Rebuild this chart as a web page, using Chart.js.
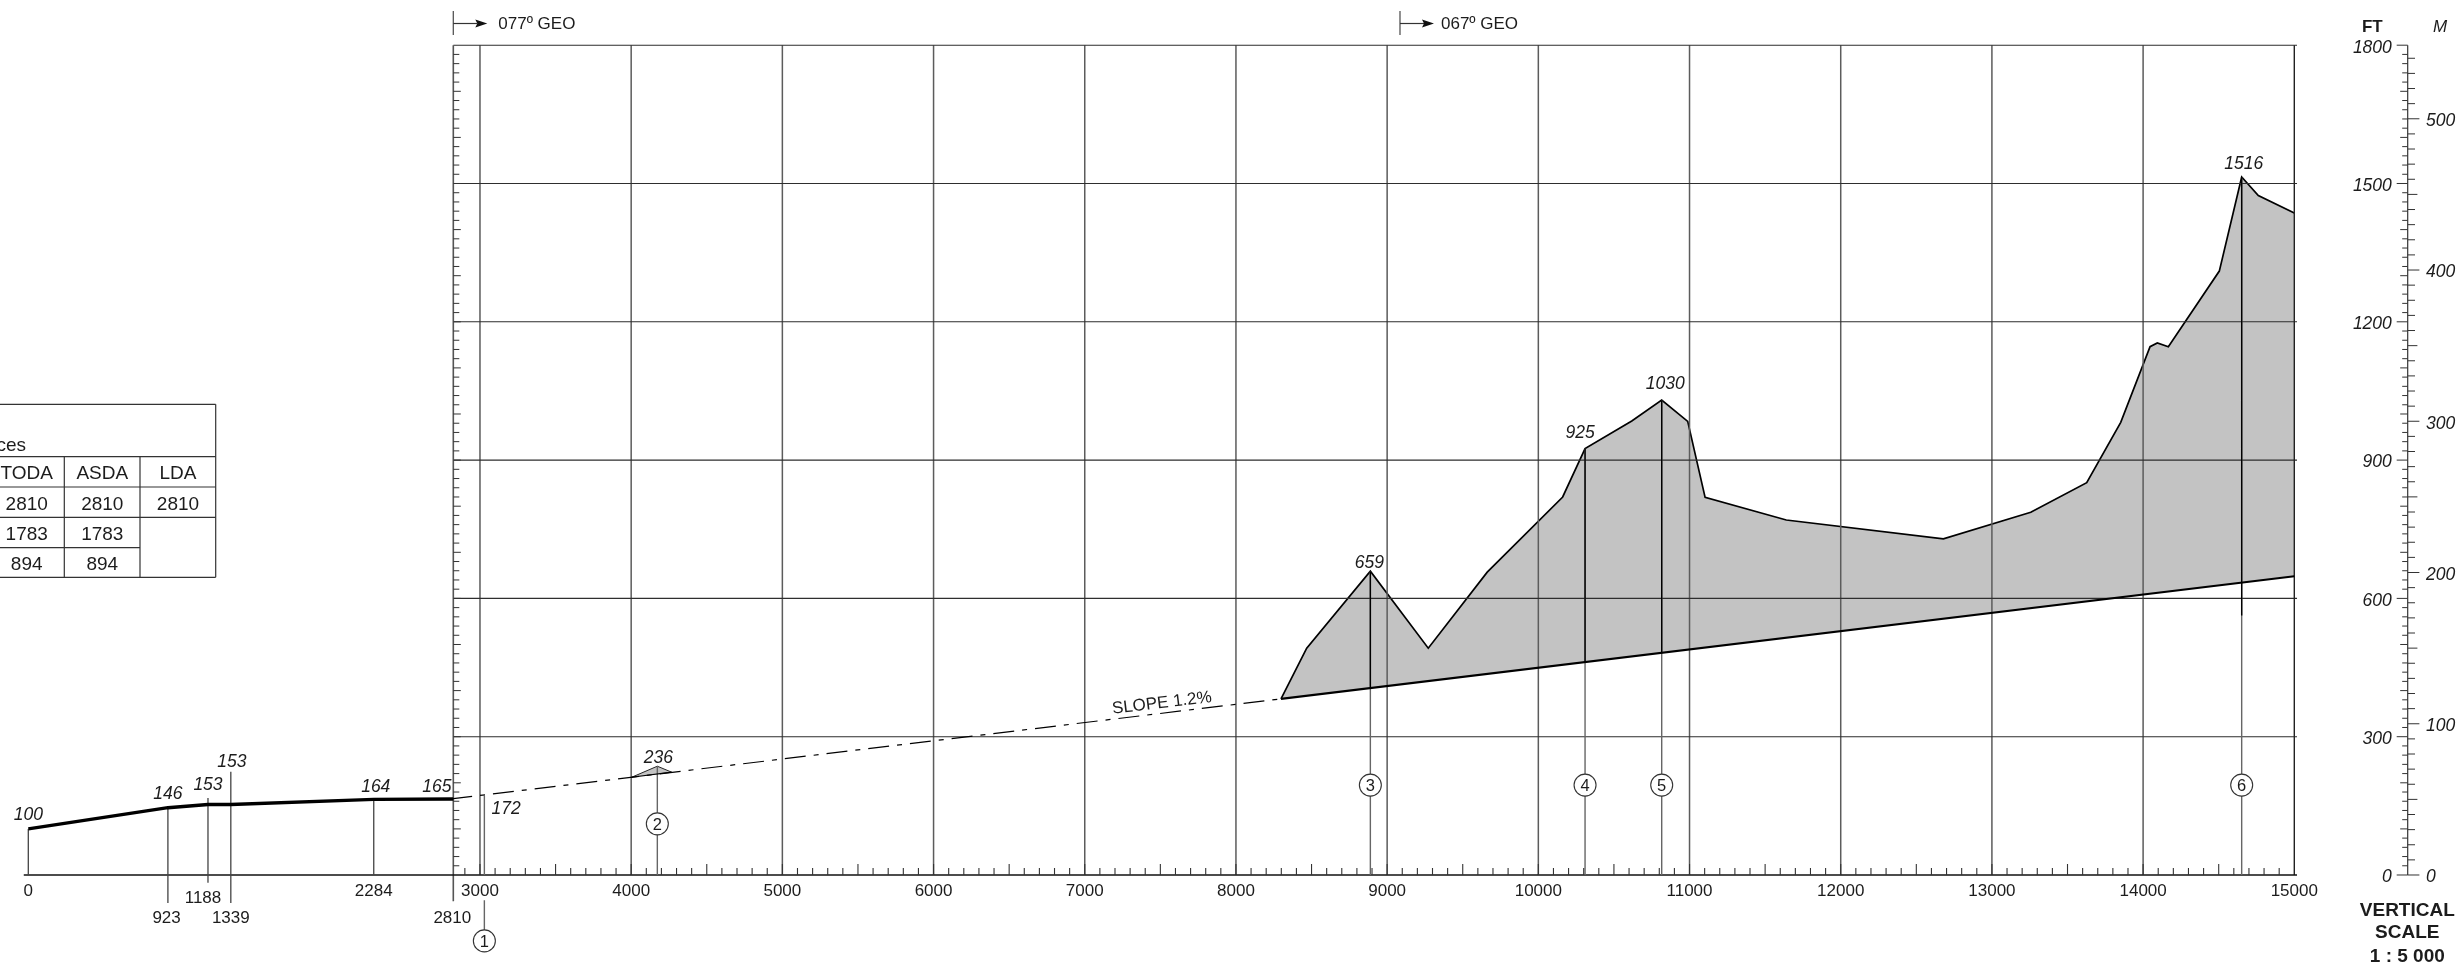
<!DOCTYPE html>
<html><head><meta charset="utf-8">
<style>html,body{margin:0;padding:0;background:#fff}canvas{display:block}</style>
<script src="https://cdn.jsdelivr.net/npm/chart.js@4"></script>
</head><body><canvas id="c" width="2463" height="964"></canvas>
<script>
// ---------- data ----------
const runwayDist=[0,923,1188,1339,2284,2810];
const runwayElev=[100,146,153,153,164,165];
const runwayDropTop=[100,146,167,224,164];
const runwayDropBottom=[0,-61,-17,-61,0];
const thresholdLabels=['923','1188','1339','2810'];
const thresholdDist=[923,1188,1339,2810];
const terrainDist=[8298,8468,8889,9272,9662,10161,10309,10618,10816,10988,11103,11640,12679,13257,13627,13852,14046,14094,14167,14504,14652,14762,15000];
const terrainElev=[382,492,659,492,657,820,925,985,1030,984,819,770,729,787,851,982,1146,1154,1146,1310,1514,1474,1436];
const slopeDashDist=[2810,8298];
const slopeDashElev=[165,382];
const slopeSolidDist=[8298,15000];
const slopeSolidElev=[382,648];
const moundDist=[4003,4173,4268];
const moundElev=[212,236,223];
const moundBaseDist=[4003,4268];
const moundBaseElev=[212,223];
const obstacleDist=[3029,4173,8889,10309,10816,14652];
const obstacleElev=[172,236,659,925,1030,1514];
const obstacleLabels=['172','236','659','925','1030','1516'];
const obstacleDarkBase=[406,462,482,563];
const circleElev=[-143,111,195,195,195,195];
const circleLabels=['1','2','3','4','5','6'];
const xTicksMain=[3000,4000,5000,6000,7000,8000,9000,10000,11000,12000,13000,14000,15000];
const xTicksRunway=[0,2284];
const ftTicks=[0,300,600,900,1200,1500,1800];
const mTicks=[0,100,200,300,400,500];
const vGrid=[3000,4000,5000,6000,7000,8000,9000,10000,11000,12000,13000,14000];
const hGrid=[300,600,900,1200,1500,1800];
const trackStart=[2810,9085];
const trackLabels=['077º GEO','067º GEO'];
const tableHead=['TODA','ASDA','LDA'];
const tableRows=[['2810','2810','2810'],['1783','1783',''],['894','894','']];
const tableTitle='ces';
const scaleTitle=['VERTICAL','SCALE','1 : 5 000'];

// ---------- helpers ----------
const FONT='"Liberation Sans", Arial, sans-serif';
const INK='#1c1c1c';
const pts=(xs,ys)=>xs.map((x,i)=>({x,y:ys[i]}));
const BREAK={x:NaN,y:NaN};
const segs=list=>list.flatMap(s=>[{x:s[0],y:s[1]},{x:s[2],y:s[3]},BREAK]);
const lineDS=(data,o)=>Object.assign({type:'line',data,pointRadius:0,borderColor:'#000',borderWidth:1,fill:false,tension:0,clip:false,spanGaps:false,xAxisID:'x',yAxisID:'y'},o);

const datasets=[
 // 0,1 terrain shading between profile and gradient line
 lineDS(pts(slopeSolidDist,slopeSolidElev),{borderWidth:2.2,order:2,borderColor:'#000'}),
 lineDS(pts(terrainDist,terrainElev),{borderWidth:1.7,order:20,backgroundColor:'#c3c3c3',fill:{target:0}}),
 // 2,3 small mound
 lineDS(pts(moundBaseDist,moundBaseElev),{borderWidth:1.2,order:3}),
 lineDS(pts(moundDist,moundElev),{borderWidth:1,order:19,backgroundColor:'#c3c3c3',fill:{target:2},borderColor:'#222'}),
 // grid
 lineDS(segs(vGrid.map(v=>[v,0,v,1800])),{borderColor:'#5c5c5c',borderWidth:1.5,order:10}),
 lineDS(segs(hGrid.map(v=>[2810,v,15000,v])),{borderColor:'#2e2e2e',borderWidth:1.1,order:9,xAxisID:'xr'}),
 lineDS(segs([[15000,0,15000,1800]]),{borderColor:'#222',borderWidth:1.4,order:8}),
 lineDS(segs([[2810,-57,2810,1800]]),{borderColor:'#555',borderWidth:1.6,order:8,xAxisID:'xr'}),
 lineDS(segs([[-30,0,15000,0]]),{borderColor:'#111',borderWidth:1.3,order:7,xAxisID:'xr'}),
 // runway
 lineDS(segs(runwayDropTop.map((t,i)=>[runwayDist[i],t,runwayDist[i],runwayDropBottom[i]])),{borderColor:'#444',borderWidth:1.3,order:6,xAxisID:'xr'}),
 lineDS(pts(runwayDist,runwayElev),{borderWidth:3.4,order:5,xAxisID:'xr'}),
 // gradient dash-dot
 lineDS(pts(slopeDashDist,slopeDashElev),{borderWidth:1.2,borderDash:[21,8,5,8],order:5,borderColor:'#000'}),
 // obstacle leaders
 lineDS(segs(obstacleDist.map((d,i)=>[d,obstacleElev[i],d,0]).concat([[obstacleDist[0],-55,obstacleDist[0],circleElev[0]]])),{borderColor:'#666',borderWidth:1.4,order:6}),
 lineDS(segs(obstacleDarkBase.map((b,i)=>[obstacleDist[i+2],obstacleElev[i+2],obstacleDist[i+2],b])),{borderColor:'#000',borderWidth:1.4,order:4}),
 // reference circles
 lineDS(pts(obstacleDist,circleElev),{showLine:false,pointRadius:11,pointHoverRadius:11,pointBackgroundColor:'#fff',pointBorderColor:'#333',pointBorderWidth:1.1,order:1})
];

const px=(scale,v)=>scale.getPixelForValue(v);
const overlay={
 id:'overlay',
 afterDraw(chart){
  const g=chart.ctx,S=chart.scales,X=S.x,XR=S.xr,Y=S.y;
  const text=(s,x,y,font,align)=>{g.font=font;g.textAlign=align||'center';g.textBaseline='middle';g.fillStyle=INK;g.fillText(s,x,y+1.5);};
  const line=(a,b,c,d,col,w)=>{g.strokeStyle=col;g.lineWidth=w;g.beginPath();g.moveTo(a,b);g.lineTo(c,d);g.stroke();};
  g.save();
  const ITAL='italic 17.5px '+FONT, REG='17px '+FONT;
  // minor distance ticks
  for(let m=2900;m<15000;m+=100){const x=px(X,m),y0=px(Y,0);line(x,y0,x,y0-(m%500===0?11:7),'#333',1.1);}
  // height ticks on the left frame edge
  const fx=px(XR,2810);
  for(let f=20;f<1800;f+=20){const y=px(Y,f);line(fx,y,fx+(f%100===0?7.5:6),y,'#333',1);}
  // FT / M ruler
  const rx=2407.7, ryT=px(Y,1800), ryB=px(Y,0);
  line(rx,ryT,rx,ryB,'#333',1.2);
  for(let f=0;f<=1800;f+=20){const y=px(Y,f);line(rx,y,rx-(f%300===0?11:f%100===0?7.5:5.5),y,'#333',1);}
  for(let m=0;m<=540;m+=10){const y=px(Y,m*3.2808);line(rx,y,rx+(m%100===0?11.7:m%50===0?9.7:7.3),y,'#333',1);}
  text('FT',2372.3,26,'bold 17px '+FONT);
  text('M',2440,26,'italic 17px '+FONT);
  const vy=[909,931.7,955];
  scaleTitle.forEach((t,i)=>text(t,2407.3,vy[i],'bold 19px '+FONT));
  // track arrows
  const trackTextOff=[45,41];
  trackStart.forEach((d,i)=>{
   const x=i===0?px(XR,d):px(X,d);
   line(x,11,x,35,'#555',1.3);
   line(x,23.5,x+24,23.5,'#333',1.2);
   g.fillStyle='#111';g.beginPath();g.moveTo(x+34,23.5);g.lineTo(x+22,19.5);g.lineTo(x+24,23.5);g.lineTo(x+22,27.5);g.closePath();g.fill();
   text(trackLabels[i],x+trackTextOff[i],23,REG,'left');
  });
  // runway labels
  const rOff=[[0,-15.7],[0,-15],[0,-21],[1,-44],[2,-14],[-16.5,-13.5]];
  runwayElev.forEach((e,i)=>text(String(e),px(XR,runwayDist[i])+rOff[i][0],px(Y,e)+rOff[i][1],ITAL));
  const tOff=[[-1.3,916.7],[-5,896.7],[0,916.7],[-1,916.7]];
  thresholdLabels.forEach((t,i)=>text(t,px(XR,thresholdDist[i])+tOff[i][0],tOff[i][1],REG));
  // obstacle labels
  const oOff=[[21.7,11.7],[1,-9.5],[-1,-9.5],[-5,-17],[3.5,-17.5],[2,-14]];
  obstacleLabels.forEach((t,i)=>text(t,px(X,obstacleDist[i])+oOff[i][0],px(Y,obstacleElev[i])+oOff[i][1],ITAL));
  circleLabels.forEach((t,i)=>text(t,px(X,obstacleDist[i]),px(Y,circleElev[i]),'16.5px '+FONT));
  // slope label
  g.save();g.translate(1161.7,701.7);g.rotate(-6.9*Math.PI/180);text('SLOPE 1.2%',0,0,REG);g.restore();
  // declared-distance table
  const tc='#333', R=215.7, cols=[64.3,140], rows=[404.3,456.7,487,517.3,547.7,577.3];
  line(0,rows[0],R,rows[0],tc,1.2);line(0,rows[1],R,rows[1],tc,1.2);line(0,rows[2],R,rows[2],tc,1.2);
  line(0,rows[3],R,rows[3],tc,1.2);line(0,rows[4],cols[1],rows[4],tc,1.2);line(0,rows[5],R,rows[5],tc,1.2);
  line(R,rows[0],R,rows[5],tc,1.2);cols.forEach(c=>line(c,rows[1],c,rows[5],tc,1.2));
  const centers=[26.7,102.3,178];
  const TF='19px '+FONT;
  text(tableTitle,26,444,TF,'right');
  tableHead.forEach((h,i)=>text(h,centers[i],472.7,TF));
  tableRows.forEach((r,j)=>r.forEach((v,i)=>{if(v)text(v,centers[i],(rows[j+2]+rows[j+3])/2+0.7,TF);}));
  g.restore();
 }
};

const axisFont={family:'Liberation Sans',size:17};
const italicFont={family:'Liberation Sans',size:17.5,style:'italic'};
const setTicks=arr=>scale=>{scale.ticks=arr.map(v=>({value:v}));};
const noHeight=s=>{s.height=0;s.paddingLeft=0;s.paddingRight=0;};
const noPad=w=>s=>{s.width=w;s.paddingTop=0;s.paddingBottom=0;};
const Y_MIN=-193.06;            // chart area runs to the canvas foot so the lowest marks stay inside it
const LABEL_DROP=5.4;           // tick-label optical drop, in feet
new Chart(document.getElementById('c'),{
 data:{datasets},
 plugins:[overlay],
 options:{
  responsive:false,animation:false,devicePixelRatio:1,events:[],
  layout:{autoPadding:false,padding:{left:26.4,top:45.2,right:0,bottom:0}},
  plugins:{legend:{display:false},tooltip:{enabled:false},title:{display:false}},
  scales:{
   x:{type:'linear',min:0,max:15000,position:{y:0},grid:{display:false},border:{display:false},afterBuildTicks:setTicks(xTicksMain),afterFit:noHeight,
      ticks:{font:axisFont,color:INK,padding:-2,autoSkip:false,maxRotation:0,callback:v=>String(v)}},
   xr:{type:'linear',min:-12.56,max:14982,position:{y:0},grid:{display:false},border:{display:false},afterBuildTicks:setTicks(xTicksRunway),afterFit:noHeight,
      ticks:{font:axisFont,color:INK,padding:-2,autoSkip:false,maxRotation:0,callback:v=>String(v)}},
   y:{type:'linear',min:Y_MIN,max:1800,display:false},
   yf:{type:'linear',min:Y_MIN+LABEL_DROP,max:1800+LABEL_DROP,position:{x:15645},grid:{display:false},border:{display:false},afterBuildTicks:setTicks(ftTicks),
      afterFit:noPad(0),
      ticks:{font:italicFont,color:INK,padding:0,autoSkip:false,callback:v=>String(v)}},
   ym:{type:'linear',min:(Y_MIN+LABEL_DROP)/3.2808,max:(1800+LABEL_DROP)/3.2808,position:'right',grid:{display:false},border:{display:false},afterBuildTicks:setTicks(mTicks),
      afterFit:noPad(168.7),
      ticks:{font:italicFont,color:INK,padding:123.7,autoSkip:false,callback:v=>String(v)}}
  }
 }
});
</script></body></html>
